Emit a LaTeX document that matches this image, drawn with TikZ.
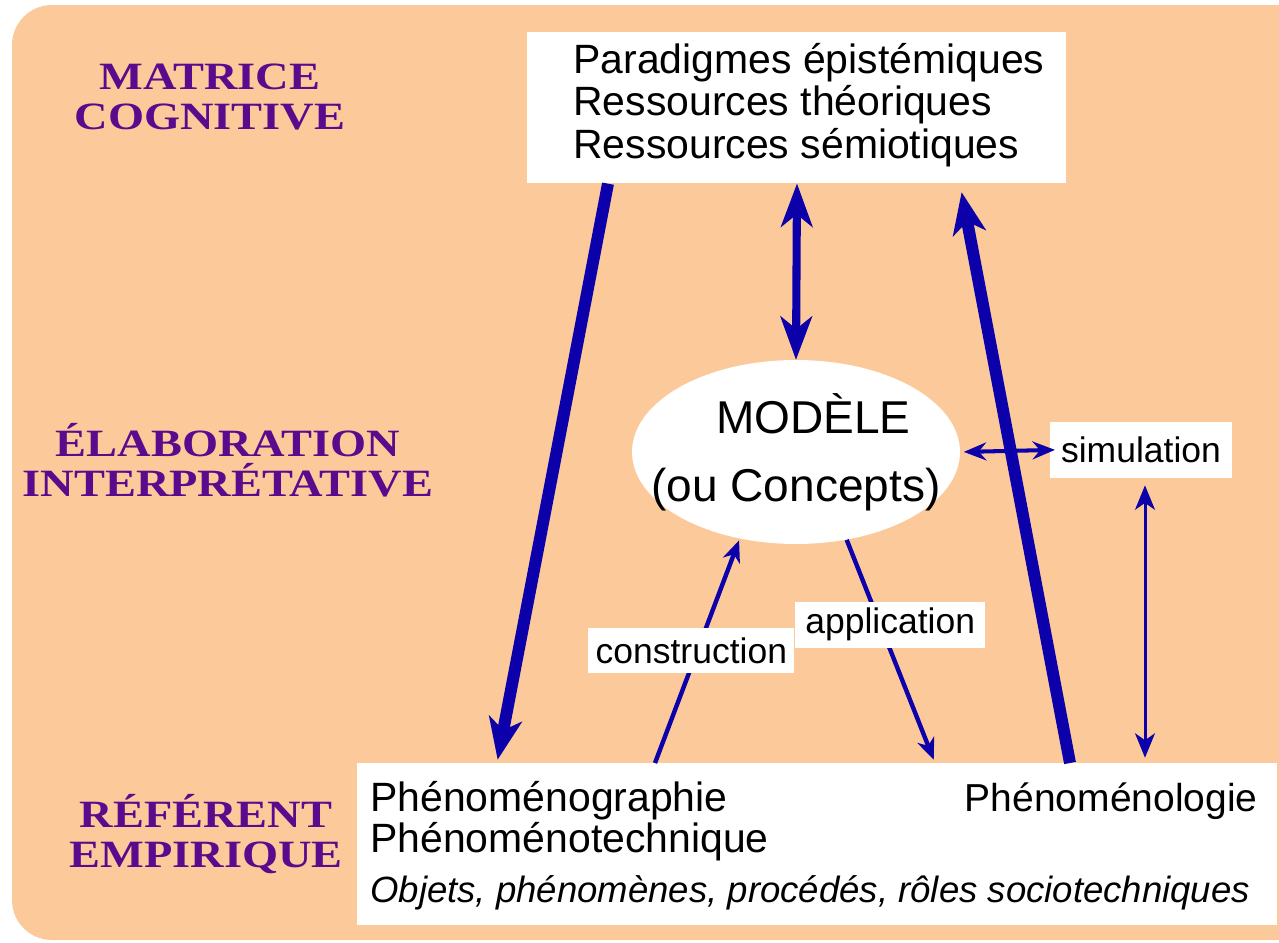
\documentclass[tikz,border=0pt]{standalone}
\usepackage{fontspec}
\setmainfont{Liberation Sans}
\newfontfamily\titlefont[FakeStretch=1.2]{Liberation Serif}
\usetikzlibrary{arrows.meta,shapes.geometric}
\definecolor{peach}{RGB}{252,202,154}
\definecolor{arrowblue}{RGB}{12,0,170}
\definecolor{titlepurple}{RGB}{90,10,140}

\begin{document}
\begin{tikzpicture}[x=0.02cm, y=-0.02cm, line join=round, >=Stealth]

	\tikzset{level/.style={font=\titlefont\bfseries\fontsize{22}{22.5}\selectfont, text=titlepurple, align=center},
		whitebox/.style={fill=white, inner sep=0pt},
		bigtext/.style={font=\fontsize{23.3}{24.3}\selectfont, inner sep=0pt},
		lbl/.style={fill=white, font=\fontsize{20.2}{22}\selectfont, inner sep=0pt},
		thick arrow/.style={draw=arrowblue, line width=6.8pt, -{Stealth[length=24pt, width=19.5pt, inset=7pt, line width=0pt]}},
		thin arrow/.style={draw=arrowblue, line width=2.5pt, -{Stealth[length=12.5pt, width=10.5pt, inset=4pt, line width=0pt]}}}

	\useasboundingbox (0,0) rectangle (1279,943);
	\clip (0,0) rectangle (1279,943);
	\fill[peach, rounded corners=0.8cm] (12,5) rectangle (1330,940);

	% levels
	\node[level] (matrice) at (210,97) {MATRICE\\COGNITIVE};
	\node[level] (elabor) at (228,460) {ÉLABORATION\\INTERPRÉTATIVE};
	\node[level] (referent) at (206,834) {RÉFÉRENT\\EMPIRIQUE};

	% boxes
	\node[whitebox, anchor=north west, minimum width=10.78cm, minimum height=3.02cm] (cogbox) at (527,32) {};
	\node[bigtext, anchor=west, align=left] (cogtxt) at (573,105) {Paradigmes épistémiques\\Ressources théoriques\\Ressources sémiotiques};

	\node[whitebox, anchor=north west, minimum width=18.4cm, minimum height=3.24cm] (empbox) at (357,763) {};
	\node[bigtext, anchor=west, align=left, font=\fontsize{23.3}{21.6}\selectfont] (graphie) at (370,821) {Phénoménographie\\Phénoménotechnique};
	\node[bigtext, anchor=east, font=\fontsize{22.2}{24}\selectfont] (logie) at (1258,801) {Phénoménologie};
	\node[anchor=west, inner sep=0pt, font=\itshape\fontsize{20.8}{22}\selectfont] (objets) at (370,893) {Objets, phénomènes, procédés, rôles sociotechniques};

	\node[ellipse, fill=white, inner sep=0pt, minimum width=6.56cm, minimum height=3.68cm] (modele) at (796,452) {};
	\node[align=center, inner sep=0pt, font=\fontsize{26.2}{38.7}\selectfont] (modtxt) at (modele) {\hspace*{0.7cm}MODÈLE\\(ou Concepts)};

	\node[lbl, minimum width=3.64cm, minimum height=1.12cm] (simul) at (1141,450) {simulation};

	% arrows
	\draw[draw=arrowblue, line width=4.6pt, {Stealth[length=25pt, width=18.5pt, inset=7.5pt, line width=0pt]}-{Stealth[length=25pt, width=18.5pt, inset=7.5pt, line width=0pt]}]
		(cogbox.south -| 797,0) -- (modele.north);
	\draw[draw=arrowblue, line width=2.3pt, {Stealth[length=13pt, width=10.5pt, inset=4.5pt, line width=0pt]}-{Stealth[length=13pt, width=10.5pt, inset=4.5pt, line width=0pt]}, shorten <=2pt, shorten >=-3pt]
		(modele.east) -- (simul.west);
	\draw[draw=arrowblue, line width=1.7pt, {Stealth[length=14pt, width=11.5pt, inset=4pt, line width=0pt]}-{Stealth[length=14pt, width=11.5pt, inset=4pt, line width=0pt]}, shorten <=4pt, shorten >=3pt]
		(simul.south -| 1145,0) -- (empbox.north -| 1145,0);
	\draw[thick arrow, shorten >=2pt] (cogbox.south -| 608,0) -- (empbox.north -| 497,0);
	\draw[thick arrow, shorten >=5pt] (empbox.north -| 1070,0) -- (cogbox.south -| 960,0);

	\draw[thin arrow, shorten >=1pt] (empbox.north -| 655,0) -- node[lbl, pos=0.5, xshift=-0.12cm, minimum width=4.12cm, minimum height=0.9cm] (constr) {construction} (modele.237);
	\draw[thin arrow, shorten >=2pt] (modele.300) -- node[lbl, pos=0.38, xshift=0.2cm, minimum width=3.8cm, minimum height=0.92cm] (appli) {application} (empbox.north -| 935,0);

\end{tikzpicture}
\end{document}
